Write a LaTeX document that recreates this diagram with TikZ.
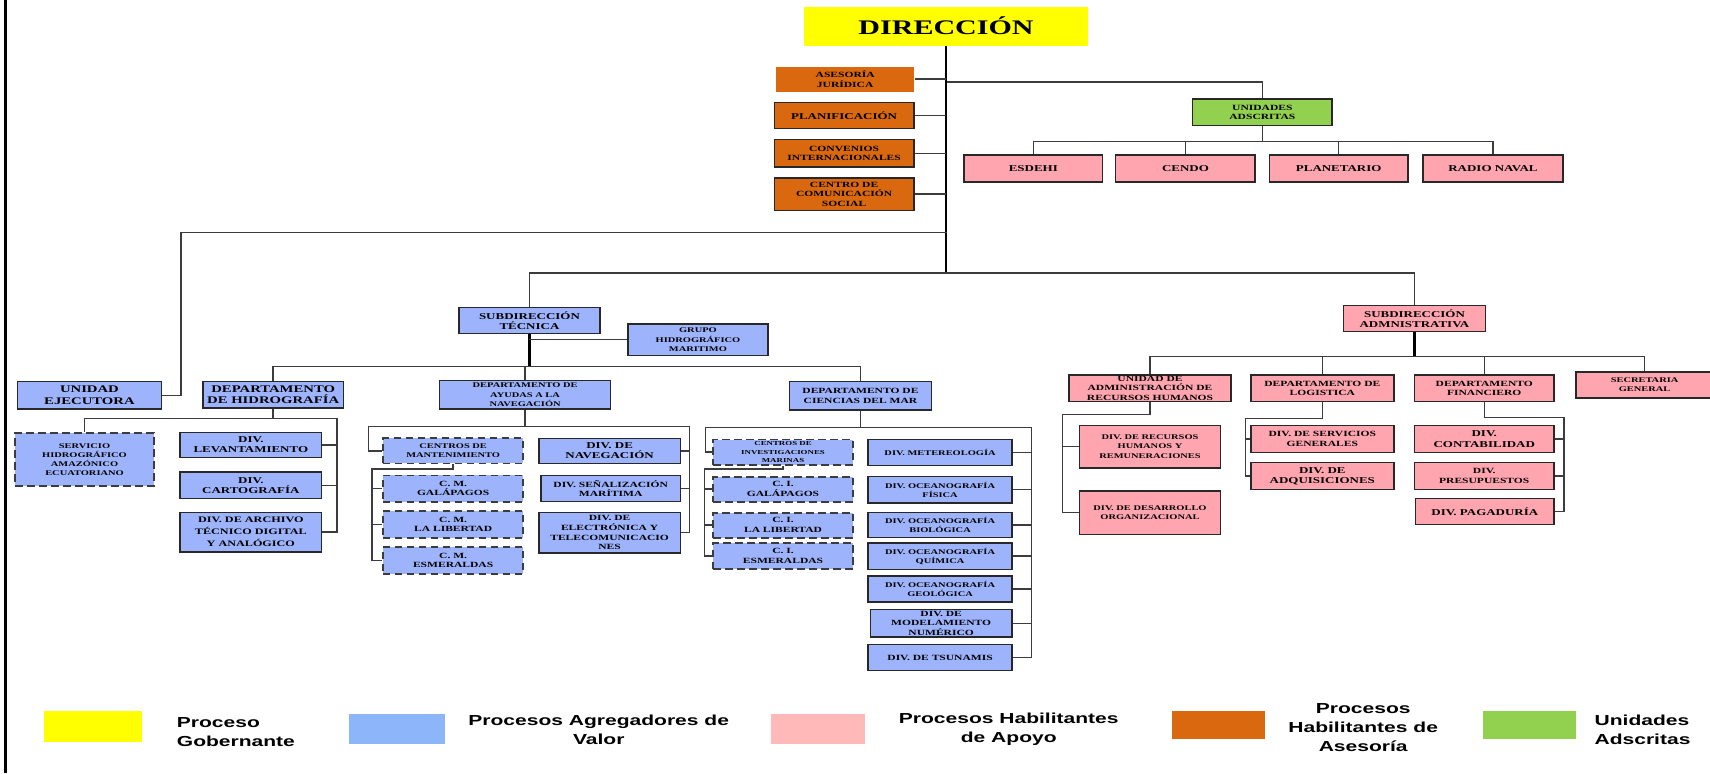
\documentclass[tikz,border=0pt]{standalone}
\usepackage{fontspec}
\newfontfamily\boxfont[FakeStretch=1.45]{Liberation Serif}
\newfontfamily\legfont[FakeStretch=1.45]{Liberation Sans}
\definecolor{yel}{RGB}{255,255,0}
\definecolor{boxorange}{RGB}{217,104,14}
\definecolor{boxgreen}{RGB}{146,208,80}
\definecolor{boxblue}{RGB}{157,180,252}
\definecolor{boxpink}{RGB}{255,165,175}
\definecolor{legblue}{RGB}{141,182,250}
\definecolor{legpink}{RGB}{255,185,185}
\definecolor{edge}{RGB}{40,40,40}
\definecolor{wirecol}{RGB}{60,60,60}
\tikzset{
  box/.style={draw=edge,line width=1.4pt,inner sep=0pt,align=center,text=black},
  blu/.style={box,fill=boxblue},
  pnk/.style={box,fill=boxpink},
  org/.style={box,fill=boxorange},
  grn/.style={box,fill=boxgreen},
  dsh/.style={draw=wirecol,dash pattern=on 7pt off 4pt,line width=1.8pt},
  wh/.style 2 args={minimum width=#1,minimum height=#2},
  wire/.style={draw=wirecol,line width=1.3pt},
  trunk/.style={draw=black,line width=2.4pt},
  fA/.style={font=\boxfont\bfseries\fontsize{9.3}{10.5}\selectfont},
  fB/.style={font=\boxfont\bfseries\fontsize{8.2}{9.5}\selectfont},
  fC/.style={font=\boxfont\bfseries\fontsize{7.3}{8.8}\selectfont},
  fD/.style={font=\boxfont\bfseries\fontsize{6.6}{8.4}\selectfont},
  fE/.style={font=\boxfont\bfseries\fontsize{5.6}{7.6}\selectfont},
  lg/.style={font=\legfont\bfseries\fontsize{13.3}{17.5}\selectfont,inner sep=0pt}
}
\begin{document}
\begin{tikzpicture}[x=1pt,y=-1pt]
\useasboundingbox (0,0) rectangle (1568,709);
% left frame line
\draw [black,line width=2.6pt] (5,0) -- (5,709);

% Direccion and the staff units
\node [fill=yel,wh={261}{36},inner sep=0pt,font=\boxfont\bfseries\fontsize{19}{21}\selectfont] (dir) at (867.5,24) {DIRECCIÓN};
\node [org,draw=none,wh={126}{23},fC] (ase) at (775,72.5) {ASESORÍA\\JURÍDICA};
\node [org,wh={128}{24},fB] (plan) at (774,106) {PLANIFICACIÓN};
\node [org,wh={128}{25},fC] (conv) at (774,140.5) {CONVENIOS\\INTERNACIONALES};
\node [org,wh={128}{30},fC] (ccs) at (774,178) {CENTRO DE\\COMUNICACIÓN\\SOCIAL};
\coordinate (mainbar) at (0,250);
\draw [trunk] (dir.south) -- (dir.south |- mainbar);
\foreach \n in {ase,plan,conv,ccs}
  \draw [wire] (\n.east) -- (\n.east -| dir.south);

% Unidades adscritas
\node [grn,wh={128}{24},fC] (uads) at (1157.5,103) {UNIDADES\\ADSCRITAS};
\node [pnk,wh={127}{25},fB] (esd) at (947.5,154.5) {ESDEHI};
\node [pnk,wh={128}{25},fB] (cen) at (1087,154.5) {CENDO};
\node [pnk,wh={127}{25},fB] (pla) at (1227.5,154.5) {PLANETARIO};
\node [pnk,wh={128}{25},fB] (rad) at (1369,154.5) {RADIO NAVAL};
\coordinate (j1) at (868,75);
\coordinate (j2) at (1157.5,130);
\draw [wire] (j1) -| (uads.north);
\draw [wire] (uads.south) -- (j2);
\foreach \n in {esd,cen,pla,rad}
  \draw [wire] (j2) -| (\n.north);

% Unidad ejecutora
\node [blu,wh={132}{25},fA] (uej) at (82,362.5) {UNIDAD\\EJECUTORA};
\coordinate (j3) at (868,213);
\coordinate (j4) at (166,362.5);
\draw [wire] (j3) -| (j4) -- (uej.east);

% Subdirecciones
\node [blu,wh={129}{24},fB] (st) at (485.5,294) {SUBDIRECCIÓN\\TÉCNICA};
\node [blu,wh={128}{29},fD] (ghm) at (640,311.5) {GRUPO\\HIDROGRÁFICO\\MARITIMO};
\node [pnk,wh={130}{24},fB] (sa) at (1297,292) {SUBDIRECCIÓN\\ADMNISTRATIVA};
\draw [wire,line width=1.6pt] (st.north) |- (dir.south |- mainbar) -| (sa.north);
\coordinate (stbar) at (0,336);
\draw [trunk,line width=2pt] (st.south) -- (st.south |- stbar);
\draw [wire] (ghm.west) -- (ghm.west -| st.south);

% Departamentos tecnicos
\node [blu,wh={129}{24},fA] (dhid) at (250.5,362) {DEPARTAMENTO\\DE HIDROGRAFÍA};
\node [blu,wh={157}{26},fD] (dayu) at (481.5,362) {DEPARTAMENTO DE\\AYUDAS A  LA\\NAVEGACIÓN};
\node [blu,wh={130}{26},fC] (dcm) at (789,363) {DEPARTAMENTO DE\\CIENCIAS DEL MAR};
\draw [wire] (dhid.north) |- (st.south |- stbar) -| (dcm.north);
\draw [wire] (dayu.north |- stbar) -- (dayu.north);

% Hidrografia
\node [blu,dsh,wh={127}{49},fD] (serv) at (77.5,421.5) {SERVICIO\\HIDROGRÁFICO\\AMAZÓNICO\\ECUATORIANO};
\node [blu,wh={130}{23},fB] (lev) at (230,408) {DIV.\\LEVANTAMIENTO};
\node [blu,wh={130}{24},fB] (car) at (230,445) {DIV.\\CARTOGRAFÍA};
\node [blu,wh={130}{36},font=\boxfont\bfseries\fontsize{7.7}{11}\selectfont] (arc) at (230,488) {DIV. DE ARCHIVO\\TÉCNICO DIGITAL\\Y ANALÓGICO};
\coordinate (hr) at (309,384);
\draw [wire] (dhid.south) -- (dhid.south |- hr);
\draw [wire] (serv.north) |- (hr) |- (arc.east);
\draw [wire] (lev.east) -- (lev.east -| hr);
\draw [wire] (car.east) -- (car.east -| hr);

% Ayudas a la navegacion
\node [blu,dsh,wh={129}{23},fD] (cmant) at (415.5,413.5) {CENTROS DE\\MANTENIMIENTO};
\node [blu,dsh,wh={129}{24},fC] (cmgal) at (415.5,448) {C. M.\\GALÁPAGOS};
\node [blu,dsh,wh={129}{24},fC] (cmlib) at (415.5,481) {C. M.\\LA LIBERTAD};
\node [blu,dsh,wh={129}{24},fC] (cmesm) at (415.5,514) {C. M.\\ESMERALDAS};
\node [blu,wh={130}{23},fB] (dnav) at (559,413.5) {DIV. DE\\NAVEGACIÓN};
\node [blu,wh={128}{24},fC] (dsen) at (560,448) {DIV. SEÑALIZACIÓN\\MARÍTIMA};
\node [blu,wh={130}{37},fC] (dele) at (559,488.5) {DIV.  DE\\ELECTRÓNICA Y\\TELECOMUNICACIO\\NES};
\coordinate (al) at (338,391);
\coordinate (ar) at (632,391);
\coordinate (cml) at (341,430);
\draw [wire] (dayu.south) -- (dayu.south |- al);
\draw [wire] (cmant.west) -| (al) -- (ar) |- (dele.east);
\draw [wire] (dnav.east) -- (dnav.east -| ar);
\draw [wire] (dsen.east) -- (dsen.east -| ar);
\draw [wire] (cmant.south) |- (cml) |- (cmesm.west);
\draw [wire] (cmgal.west) -- (cmgal.west -| cml);
\draw [wire] (cmlib.west) -- (cmlib.west -| cml);

% Ciencias del mar
\node [blu,dsh,wh={128}{23},fE] (cim) at (718,414.5) {CENTROS DE\\INVESTIGACIONES\\MARINAS};
\node [blu,dsh,wh={128}{23},fC] (cigal) at (718,448.5) {C. I.\\GALÁPAGOS};
\node [blu,dsh,wh={128}{23},fC] (cilib) at (718,481.5) {C. I.\\LA LIBERTAD};
\node [blu,dsh,wh={128}{24},fC] (ciesm) at (718,510) {C. I.\\ESMERALDAS};
\node [blu,wh={132}{24},fD] (met) at (862,415) {DIV. METEREOLOGÍA};
\node [blu,wh={132}{24},fD] (ofi) at (862,449) {DIV. OCEANOGRAFÍA\\FÍSICA};
\node [blu,wh={132}{23},fD] (obi) at (862,481.5) {DIV. OCEANOGRAFÍA\\BIOLÓGICA};
\node [blu,wh={132}{24},fD] (oqu) at (862,510) {DIV. OCEANOGRAFÍA\\QUÍMICA};
\node [blu,wh={132}{24},fD] (oge) at (862,540) {DIV. OCEANOGRAFÍA\\GEOLÓGICA};
\node [blu,wh={130}{25},fC] (mod) at (863,571.5) {DIV.  DE\\MODELAMIENTO\\NUMÉRICO};
\node [blu,wh={132}{24},fC] (tsu) at (862,603) {DIV.  DE TSUNAMIS};
\coordinate (cl) at (647,392);
\coordinate (cr) at (946,392);
\coordinate (cil) at (646,430);
\draw [wire] (dcm.south) -- (dcm.south |- cl);
\draw [wire] (cim.west) -| (cl) -- (cr) |- (tsu.east);
\foreach \n in {met,ofi,obi,oqu,oge,mod}
  \draw [wire] (\n.east) -- (\n.east -| cr);
\draw [wire] (cim.south) |- (cil) |- (ciesm.west);
\draw [wire] (cigal.west) -- (cigal.west -| cil);
\draw [wire] (cilib.west) -- (cilib.west -| cil);

% Subdireccion administrativa
\node [pnk,wh={149}{24},fC] (uarh) at (1054.5,356) {UNIDAD DE\\ADMINISTRACIÓN DE\\RECURSOS HUMANOS};
\node [pnk,wh={131}{24},fC] (log) at (1212.5,356) {DEPARTAMENTO DE\\LOGISTICA};
\node [pnk,wh={128}{24},fC] (fin) at (1361,356) {DEPARTAMENTO\\FINANCIERO};
\node [pnk,wh={126}{24},fD] (sec) at (1508,353) {SECRETARIA\\GENERAL};
\coordinate (ab) at (0,327);
\draw [trunk,line width=2pt] (sa.south) -- (sa.south |- ab);
\draw [wire] (uarh.north) |- (sa.south |- ab) -| (sec.north);
\draw [wire] (log.north) -- (log.north |- ab);
\draw [wire] (fin.north) -- (fin.north |- ab);

\node [pnk,wh={129}{39},fD] (rrhh) at (1054.5,409.5) {DIV. DE RECURSOS\\HUMANOS Y\\REMUNERACIONES};
\node [pnk,wh={129}{40},fD] (dorg) at (1054.5,470) {DIV. DE DESARROLLO\\ORGANIZACIONAL};
\coordinate (ul) at (974,380);
\draw [wire] (uarh.south) |- (ul) |- (dorg.west);
\draw [wire] (rrhh.west) -- (rrhh.west -| ul);

\node [pnk,wh={131}{25},fC] (dsg) at (1212.5,402.5) {DIV. DE SERVICIOS\\GENERALES};
\node [pnk,wh={131}{25},fB] (dadq) at (1212.5,436.5) {DIV.  DE\\ADQUISICIONES};
\coordinate (ll) at (1142,384);
\draw [wire] (log.south) |- (ll) |- (dadq.west);
\draw [wire] (dsg.west) -- (dsg.west -| ll);

\node [pnk,wh={128}{25},fB] (dcon) at (1361,402.5) {DIV.\\CONTABILIDAD};
\node [pnk,wh={128}{25},fC] (dpre) at (1361,436.5) {DIV.\\PRESUPUESTOS};
\node [pnk,wh={127}{24},fB] (dpag) at (1361.5,469) {DIV. PAGADURÍA};
\coordinate (fr) at (1434,383);
\draw [wire] (fin.south) |- (fr) |- (dpag.east);
\draw [wire] (dcon.east) -- (dcon.east -| fr);
\draw [wire] (dpre.east) -- (dpre.east -| fr);

% legend
\node [fill=yel,wh={90}{28}] (lgov) at (85,666) {};
\node [lg,anchor=west,align=left] (tgov) at (162,671) {Proceso\\Gobernante};
\node [fill=legblue,wh={88}{27}] (lagr) at (364,668.5) {};
\node [lg,align=center] (tagr) at (549,669) {Procesos Agregadores de\\Valor};
\node [fill=legpink,wh={86}{27}] (lapo) at (750,668.5) {};
\node [lg,align=center] (tapo) at (925,669) {Procesos Habilitantes\\de Apoyo};
\node [fill=boxorange,wh={85}{26}] (lase) at (1117.5,665) {};
\node [lg,align=center] (tase) at (1250,667) {Procesos\\Habilitantes de\\Asesoría};
\node [fill=boxgreen,wh={85}{26}] (lads) at (1402.5,665) {};
\node [lg,anchor=west,align=left] (tads) at (1462,669) {Unidades\\Adscritas};
\end{tikzpicture}
\end{document}
